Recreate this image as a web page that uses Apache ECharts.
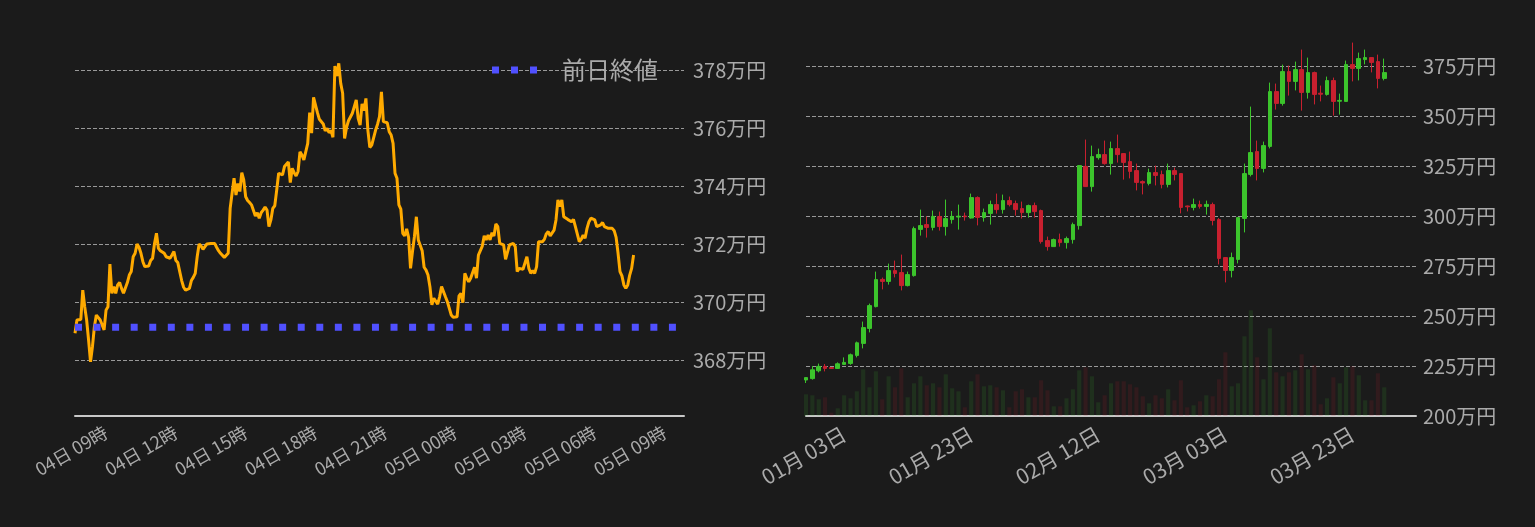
<!DOCTYPE html>
<html><head><meta charset="utf-8">
<script src="https://cdn.jsdelivr.net/npm/echarts@6/dist/echarts.min.js"></script>
<style>html,body{margin:0;padding:0;background:#1b1b1b;}#c{width:1535px;height:527px;}</style>
</head><body><div id="c"></div>
<script>
// ---- Intraday (left) ----
const intradayStartDay = 4, intradayStartHour = 7, intradayStartMinute = 40;
const intradayStepMinutes = 5;
const intradaySlotCount = 315; // axis runs past the last data point
const intradayPrice = [
368.93,369.39,369.45,369.41,370.42,369.85,369.39,368.70,367.95,368.47,
369.16,369.56,369.53,369.39,369.37,369.05,369.73,369.85,371.32,370.31,
370.54,370.31,370.60,370.68,370.48,370.31,370.25,370.68,370.94,371.06,
371.57,371.69,372.01,371.90,371.69,371.40,371.23,371.23,371.25,371.44,
371.52,372.03,372.38,371.86,371.78,371.73,371.69,371.57,371.52,371.52,
371.63,371.75,371.44,371.37,371.06,370.75,370.52,370.42,370.40,370.48,
370.75,370.86,371.00,371.57,372.01,371.94,371.83,371.92,372.01,372.03,
372.03,372.03,372.03,371.90,371.78,371.69,371.63,371.55,371.57,371.69,
373.24,373.30,374.28,373.70,374.10,373.82,374.47,374.22,373.64,373.51,
373.44,373.36,373.30,372.98,373.09,372.90,373.09,373.18,373.28,373.18,
372.61,372.84,373.24,373.33,373.87,374.45,374.51,374.39,374.68,374.72,
374.84,374.13,374.62,374.47,374.36,374.51,375.19,375.08,374.91,374.85,
375.48,376.54,375.83,377.07,376.80,376.54,376.31,376.29,376.15,375.91,
376.00,375.85,375.92,375.69,378.15,377.80,378.24,377.55,377.21,375.65,
376.03,376.26,376.32,376.52,376.75,376.98,376.34,376.11,376.84,376.61,
377.03,375.94,375.34,375.42,375.46,375.94,376.14,376.40,377.26,376.23,
376.23,376.19,375.88,375.77,375.48,374.45,374.28,373.36,373.21,372.38,
372.29,372.53,372.24,371.17,371.75,372.26,372.95,372.15,372.09,371.78,
371.21,371.11,370.94,370.54,369.91,370.14,370.17,369.94,370.19,370.54,
370.52,370.19,370.02,369.79,369.56,369.48,369.45,369.50,370.22,370.31,
369.99,371.00,370.83,370.71,370.83,370.83,371.21,370.83,371.63,371.69,
371.94,372.29,372.15,372.32,372.15,372.40,372.29,372.70,372.61,372.03,
371.98,371.98,371.48,371.46,371.98,372.03,372.03,371.92,371.06,371.17,
371.17,371.14,371.14,371.57,371.17,371.00,371.09,371.00,371.23,372.09,
372.09,372.09,372.17,372.36,372.44,372.29,372.32,372.49,372.84,373.53,
373.30,373.53,372.95,373.01,372.86,372.84,372.78,372.86,372.61,372.55,
372.09,372.17,372.32,372.21,372.55,372.78,372.90,372.86,372.84,372.61,
372.67,372.67,372.75,372.61,372.56,372.55,372.55,372.55,372.47,372.24,
371.69,371.06,370.91,370.60,370.48,370.60,370.94,371.17,371.63];
const prevClose = 369.14;
const prevCloseName = '前日終値';

// ---- Daily (right) ----
const dailyStart = [2023, 11, 28]; // 2023-12-28
const dailySlotCount = 97;
const candleOpen = [218.0,218.7,222.6,224.8,224.2,223.8,225.8,226.3,230.3,236.3,
243.8,254.7,268.3,267.3,272.7,271.7,265.2,270.2,293.3,295.7,
294.3,299.7,294.7,298.2,299.5,300.0,299.0,309.2,299.3,301.3,
305.7,303.2,307.7,306.2,303.7,301.7,305.2,302.7,287.7,284.7,
288.2,286.7,288.2,295.2,324.8,314.7,329.2,330.7,326.2,333.7,
331.2,327.2,322.7,317.2,316.3,321.7,320.7,315.8,322.7,321.2,
305.0,304.3,305.7,304.8,305.7,298.2,279.2,272.8,278.3,298.8,
320.8,332.2,323.8,334.8,362.2,356.3,372.2,367.3,373.2,361.8,
371.7,361.4,360.8,367.7,357.4,357.3,375.7,373.8,378.2,379.2,
377.2,368.8];
const candleClose = [219.2,223.1,224.8,223.8,223.8,226.1,226.8,230.6,236.6,244.2,
255.2,268.2,267.3,272.7,271.3,265.2,270.7,293.7,295.2,294.3,
299.8,294.7,298.7,299.8,299.9,299.6,309.2,299.3,301.7,305.7,
303.2,307.7,305.7,303.2,301.7,305.2,302.2,287.2,284.7,288.2,
286.7,288.7,295.7,325.2,314.7,329.7,330.7,326.2,333.7,330.7,
326.8,322.3,316.8,316.5,321.7,320.3,315.8,322.7,320.8,304.3,
304.6,305.7,304.8,305.8,297.8,278.8,272.8,279.2,299.2,321.2,
331.7,323.8,335.2,362.2,356.3,372.2,367.3,373.2,361.8,371.7,
360.8,360.9,367.7,357.3,357.8,375.7,373.8,378.7,379.2,376.8,
368.8,371.7];
const candleLow = [216.5,218.2,221.8,222.3,223.6,223.5,225.8,225.6,229.3,233.8,
241.8,254.3,263.3,265.7,269.3,262.8,264.8,269.7,290.2,289.2,
292.8,292.7,290.2,296.2,293.2,297.7,298.7,295.3,297.2,295.7,
301.2,301.2,304.8,300.2,298.7,299.2,299.2,286.2,282.7,284.7,
284.7,283.7,286.2,293.2,314.7,312.2,328.2,325.7,320.7,326.7,
318.2,318.8,312.8,310.8,315.3,315.3,313.8,314.3,317.8,301.3,
302.3,302.8,303.7,300.7,295.3,275.8,266.8,269.3,276.3,291.8,
319.8,317.8,321.8,333.8,353.2,355.2,360.2,362.8,352.7,358.7,
355.8,357.3,360.2,350.2,350.7,357.3,367.3,367.8,375.8,371.8,
363.8,367.8];
const candleHigh = [219.3,225.0,226.2,226.0,224.4,226.8,229.3,231.2,237.2,247.2,
256.2,272.2,269.2,276.2,277.7,280.7,272.2,294.7,303.2,299.8,
302.7,302.2,308.2,302.5,305.7,301.7,311.2,309.8,303.7,307.7,
311.2,310.7,309.7,307.7,307.2,305.7,306.7,303.2,289.7,288.7,
291.2,289.7,296.7,325.4,338.2,335.2,333.7,337.7,337.2,340.7,
331.4,332.2,326.2,317.8,323.7,325.2,322.7,326.2,324.2,321.4,
305.2,308.7,307.7,307.7,306.7,299.0,279.4,281.7,299.4,326.2,
354.7,337.7,337.2,366.7,366.2,375.7,375.2,377.2,383.2,379.2,
372.2,365.2,369.7,369.2,361.2,377.7,386.7,381.7,383.2,379.4,
380.7,378.7];
const volume = [217,207,167,187,33,77,207,177,247,467,
287,447,167,397,287,477,187,327,397,307,
327,287,417,277,247,87,347,417,297,307,
287,257,87,247,267,187,187,357,257,97,
97,177,267,457,487,397,137,207,327,347,
347,317,287,197,127,207,177,267,157,357,
87,107,147,207,197,367,637,297,327,797,
1057,587,367,877,437,397,437,457,617,467,
507,117,177,387,327,487,497,407,157,157,
427,287];

// ---- axis settings ----
const leftPriceMin = 366.09, leftPriceMax = 379;
const rightPriceMin = 200, rightPriceMax = 390, rightPriceStep = 25;
const volumeAxisMax = 3800;

const pad = n => String(n).padStart(2, '0');
const intradayCats = [];
for (let k = 0; k < intradaySlotCount; k++) {
  const t = intradayStartHour * 60 + intradayStartMinute + k * intradayStepMinutes;
  const d = intradayStartDay + Math.floor(t / 1440);
  const m = t % 1440;
  intradayCats.push(pad(d) + '日 ' + pad(Math.floor(m / 60)) + ':' + pad(m % 60));
}
const dailyCats = [];
for (let k = 0; k < dailySlotCount; k++) {
  const dt = new Date(dailyStart[0], dailyStart[1], dailyStart[2] + k);
  dailyCats.push(pad(dt.getMonth() + 1) + '月 ' + pad(dt.getDate()) + '日');
}
const candleData = candleOpen.map((o, i) => [o, candleClose[i], candleLow[i], candleHigh[i]]);
const UP = '#3cc42c', DOWN = '#c8202f';
const volumeData = volume.map((v, i) => ({
  value: v,
  itemStyle: { color: candleClose[i] >= candleOpen[i] ? 'rgba(60,196,44,0.13)' : 'rgba(200,32,47,0.13)' }
}));

const labelColor = '#aaaaaa';
const font = 'Noto Sans CJK JP';
const gridLine = { show: true, showMinLine: false, showMaxLine: false, lineStyle: { color: '#999999', type: [4, 2], width: 1 } };
const axisLineStyle = { show: true, lineStyle: { color: '#c8c8c8', width: 2 } };

const chart = echarts.init(document.getElementById('c'));
chart.setOption({
  backgroundColor: '#1b1b1b',
  animation: false,
  textStyle: { fontFamily: font },
  legend: {
    data: [{ name: prevCloseName, icon: 'path://M0,0H7V7H0Z M19,0H26V7H19Z M38,0H45V7H38Z' }],
    left: 492, top: 58, padding: 0,
    itemWidth: 45, itemHeight: 7,
    textStyle: { color: labelColor, fontSize: 24, lineHeight: 24, fontFamily: font, padding: [0, 0, 0, 20] }
  },
  grid: [
    { left: 75, right: 851, top: 41.3, bottom: 111.3 },
    { left: 806, right: 119, top: 36, bottom: 111 }
  ],
  xAxis: [
    {
      type: 'category', gridIndex: 0, data: intradayCats, boundaryGap: false,
      axisLine: axisLineStyle, axisTick: { show: false }, splitLine: { show: false },
      axisLabel: {
        color: labelColor, fontSize: 18, fontFamily: font, rotate: 30, margin: 15,
        interval: (idx, val) => /:00$/.test(val) && (parseInt(val.slice(4, 6), 10) % 3 === 0),
        formatter: v => v.slice(0, 6) + '時'
      }
    },
    {
      type: 'category', gridIndex: 1, data: dailyCats, boundaryGap: false,
      axisLine: axisLineStyle, axisTick: { show: false }, splitLine: { show: false },
      axisLabel: {
        color: labelColor, fontSize: 21, fontFamily: font, rotate: 30, margin: 16,
        interval: (idx) => (idx - 6) % 20 === 0
      }
    }
  ],
  yAxis: [
    {
      type: 'value', gridIndex: 0, position: 'right', min: leftPriceMin, max: leftPriceMax, splitNumber: 6,
      axisLine: { show: false }, axisTick: { show: false }, splitLine: gridLine,
      axisLabel: { color: labelColor, fontSize: 20, fontFamily: font, margin: 9, showMinLabel: false, showMaxLabel: false,
        formatter: v => v + '万円' }
    },
    {
      type: 'value', gridIndex: 1, position: 'right', min: rightPriceMin, max: rightPriceMax, interval: rightPriceStep,
      axisLine: { show: false }, axisTick: { show: false }, splitLine: gridLine,
      axisLabel: { color: labelColor, fontSize: 20, fontFamily: font, margin: 7, showMaxLabel: false,
        formatter: v => v + '万円' }
    },
    {
      type: 'value', gridIndex: 1, min: 0, max: volumeAxisMax, show: false, splitLine: { show: false }
    }
  ],
  series: [
    {
      name: 'price', type: 'line', xAxisIndex: 0, yAxisIndex: 0, data: intradayPrice,
      symbol: 'none', lineStyle: { color: '#ffaa00', width: 3 }, itemStyle: { color: '#ffaa00' }, z: 2
    },
    {
      name: prevCloseName, type: 'line', xAxisIndex: 0, yAxisIndex: 0,
      data: [[0, prevClose], [intradaySlotCount - 1, prevClose]],
      symbol: 'none', lineStyle: { color: '#5050ff', width: 7, type: [7, 11.56], cap: 'butt' },
      itemStyle: { color: '#5050ff' }, z: 3
    },
    {
      name: 'volume', type: 'bar', xAxisIndex: 1, yAxisIndex: 2, data: volumeData, barWidth: '65%', z: 1
    },
    {
      name: 'candle', type: 'candlestick', xAxisIndex: 1, yAxisIndex: 1, data: candleData, barWidth: '65%',
      itemStyle: { color: UP, color0: DOWN, borderColor: UP, borderColor0: DOWN, borderWidth: 1 }, z: 2
    }
  ]
});
</script></body></html>
